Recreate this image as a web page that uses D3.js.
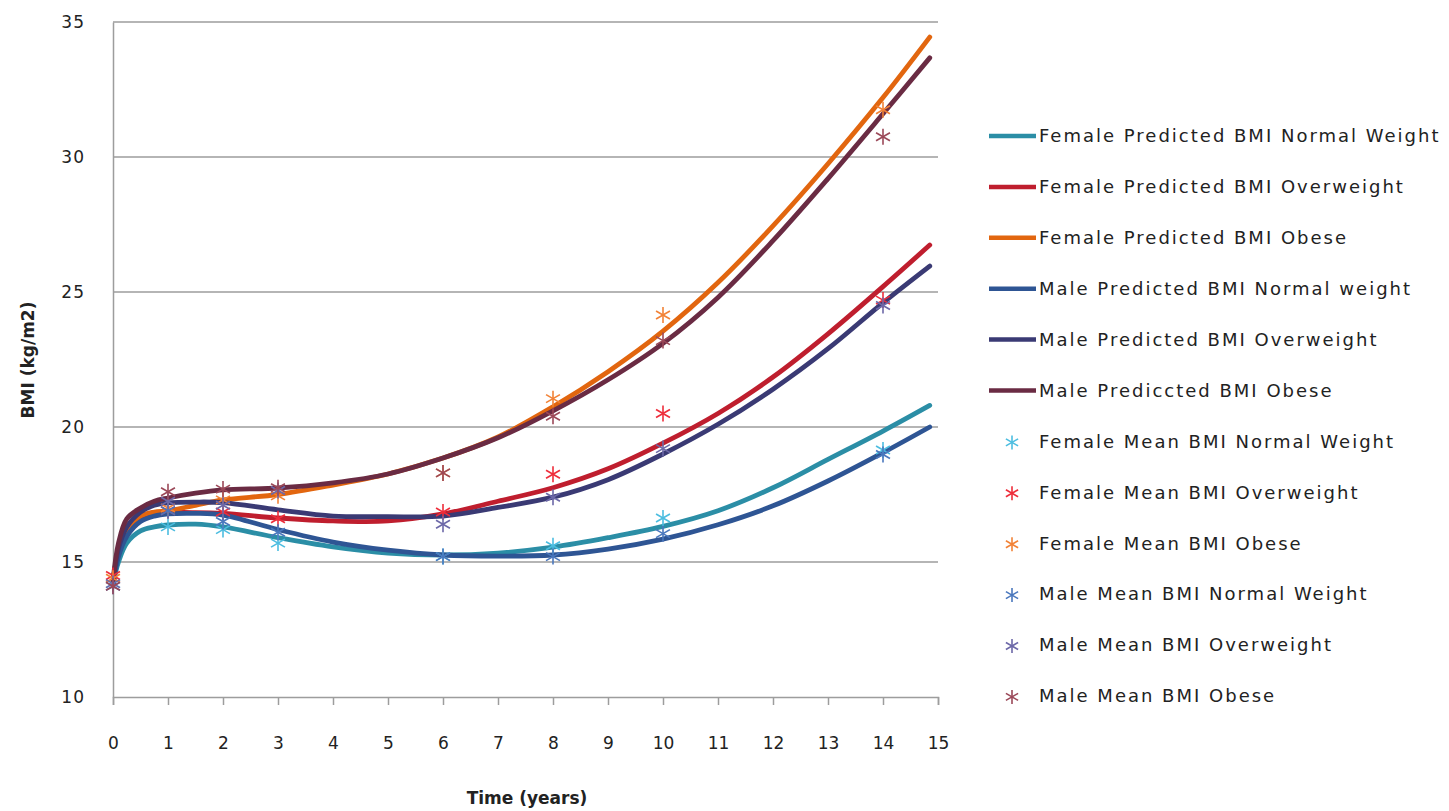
<!DOCTYPE html>
<html>
<head>
<meta charset="utf-8">
<script src="https://cdn.jsdelivr.net/npm/d3@7"></script>
<style>
  html, body { margin: 0; padding: 0; background: #fff; }
  svg { display: block; }
  text { font-family: "DejaVu Sans", Verdana, sans-serif; fill: #222; }
</style>
</head>
<body>
<svg id="chart" width="1449" height="811"></svg>
<script>
// Time points for the predicted (fitted) curves, in years
const predTimes = [0, 0.1, 0.25, 0.5, 0.75, 1, 1.5, 2, 3, 4, 5, 6, 7, 8, 9, 10, 11, 12, 13, 14, 14.85];

// Predicted BMI per group
const femaleNormalPred = [14.2, 15.0, 15.7, 16.15, 16.3, 16.37, 16.4, 16.3, 15.9, 15.56, 15.33, 15.26, 15.33, 15.55, 15.9, 16.32, 16.9, 17.75, 18.8, 19.85, 20.8];
const femaleOverPred   = [14.3, 15.3, 16.0, 16.55, 16.75, 16.82, 16.83, 16.8, 16.63, 16.52, 16.52, 16.78, 17.25, 17.75, 18.45, 19.4, 20.5, 21.85, 23.45, 25.2, 26.74];
const femaleObesePred  = [14.3, 15.4, 16.2, 16.7, 16.85, 16.9, 17.1, 17.3, 17.5, 17.85, 18.26, 18.85, 19.63, 20.75, 22.05, 23.55, 25.35, 27.45, 29.75, 32.2, 34.44];
const maleNormalPred   = [14.1, 15.2, 15.95, 16.5, 16.7, 16.78, 16.8, 16.74, 16.2, 15.74, 15.44, 15.26, 15.22, 15.26, 15.48, 15.85, 16.38, 17.08, 18.0, 19.05, 20.0];
const maleOverPred     = [14.2, 15.5, 16.3, 16.85, 17.1, 17.19, 17.22, 17.2, 16.93, 16.7, 16.68, 16.7, 17.02, 17.4, 18.05, 19.0, 20.1, 21.4, 22.9, 24.6, 25.96];
const maleObesePred    = [14.3, 15.7, 16.6, 17.0, 17.25, 17.37, 17.55, 17.67, 17.74, 17.93, 18.26, 18.85, 19.6, 20.6, 21.75, 23.1, 24.8, 26.9, 29.2, 31.6, 33.67];

// Observation times for the group means
const meanTimes = [0, 1, 2, 3, 6, 8, 10, 14];

// Mean BMI per group at each observation time
const femaleNormalMean = [14.2, 16.3, 16.2, 15.7, 15.2, 15.6, 16.63, 19.15];
const femaleOverMean   = [14.5, 16.9, 16.85, 16.6, 16.85, 18.25, 20.5, 24.7];
const femaleObeseMean  = [14.4, 17.0, 17.3, 17.45, 18.3, 21.05, 24.15, 31.75];
const maleNormalMean   = [14.1, 16.9, 16.5, 16.1, 15.2, 15.2, 16.05, 18.98];
const maleOverMean     = [14.2, 17.25, 17.1, 17.65, 16.4, 17.4, 19.2, 24.5];
const maleObeseMean    = [14.1, 17.6, 17.7, 17.75, 18.3, 20.4, 23.2, 30.75];

const predNames = [
  "Female Predicted BMI Normal Weight",
  "Female Predicted BMI Overweight",
  "Female Predicted BMI Obese",
  "Male Predicted BMI Normal weight",
  "Male Predicted BMI Overweight",
  "Male Predicccted BMI Obese".replace("ccc", "cc")
];

const meanNames = [
  "Female Mean BMI Normal Weight",
  "Female Mean BMI Overweight",
  "Female Mean BMI Obese",
  "Male Mean BMI Normal Weight",
  "Male Mean BMI Overweight",
  "Male Mean BMI Obese"
];

const xTicks = d3.range(0, 16);
const yTicks = [10, 15, 20, 25, 30, 35];

const predColors = ["#2b8ea6", "#bf1e2e", "#e2660f", "#2e5594", "#3a3a74", "#6a2b43"];
const meanColors = ["#4cbde0", "#ee2d3a", "#f28236", "#4a77bd", "#6c68a8", "#9b4858"];

const predSeries = [femaleNormalPred, femaleOverPred, femaleObesePred, maleNormalPred, maleOverPred, maleObesePred];
const meanSeries = [femaleNormalMean, femaleOverMean, femaleObeseMean, maleNormalMean, maleOverMean, maleObeseMean];

const svg = d3.select("#chart");

const x = d3.scaleLinear().domain([0, 15]).range([113, 938]);
const y = d3.scaleLinear().domain([10, 35]).range([697, 22]);

// Horizontal gridlines
svg.append("g")
  .selectAll("line")
  .data(yTicks.filter(v => v > 10))
  .join("line")
  .attr("x1", x(0)).attr("x2", x(15))
  .attr("y1", d => y(d)).attr("y2", d => y(d))
  .attr("stroke", "#9d9d9d").attr("stroke-width", 1.5);

// Y axis (line + labels)
const yAxis = svg.append("g")
  .attr("transform", `translate(${x(0)},0)`)
  .call(d3.axisLeft(y).tickValues(yTicks).tickSize(0).tickPadding(28).tickFormat(d3.format("d")));
yAxis.select(".domain").attr("stroke", "#9d9d9d").attr("stroke-width", 1.5);
yAxis.selectAll("text").style("font-size", "17px").style("font-family", "DejaVu Sans, sans-serif")
  .style("letter-spacing", "1px").attr("fill", "#333");

// X axis (line, ticks, labels)
const xAxis = svg.append("g")
  .attr("transform", `translate(0,${y(10)})`)
  .call(d3.axisBottom(x).tickValues(xTicks).tickSize(8).tickPadding(32).tickFormat(d3.format("d")));
xAxis.select(".domain").attr("stroke", "#9d9d9d").attr("stroke-width", 1.5);
xAxis.selectAll(".tick line").attr("stroke", "#9d9d9d").attr("stroke-width", 1.5);
xAxis.selectAll("text").style("font-size", "17px").style("font-family", "DejaVu Sans, sans-serif").attr("fill", "#333");

// Axis titles
svg.append("text")
  .attr("x", 527).attr("y", 804)
  .attr("text-anchor", "middle")
  .style("font-size", "17px").style("font-weight", "bold")
  .text("Time (years)");
svg.append("text")
  .attr("transform", `translate(34,360) rotate(-90)`)
  .attr("text-anchor", "middle")
  .style("font-size", "17px").style("font-weight", "bold")
  .text("BMI (kg/m2)");

// Predicted curves
const line = d3.line()
  .x(d => x(d[0]))
  .y(d => y(d[1]))
  .curve(d3.curveCatmullRom.alpha(0.5));

svg.append("g")
  .selectAll("path")
  .data(predSeries)
  .join("path")
  .attr("d", s => line(predTimes.map((t, i) => [t, s[i]])))
  .attr("fill", "none")
  .attr("stroke", (s, i) => predColors[i])
  .attr("stroke-width", 4.8)
  .attr("stroke-linecap", "round")
  .attr("stroke-linejoin", "round");

// Asterisk marker: vertical stroke plus an X
function asterisk(g, cx, cy, r, color) {
  const a = r * 0.87, b = r * 0.5;
  const segs = [[0, -r, 0, r], [-a, -b, a, b], [-a, b, a, -b]];
  g.selectAll(null).data(segs).join("line")
    .attr("x1", d => cx + d[0]).attr("y1", d => cy + d[1])
    .attr("x2", d => cx + d[2]).attr("y2", d => cy + d[3])
    .attr("stroke", color).attr("stroke-width", 1.6);
}

// Mean markers
meanSeries.forEach((s, i) => {
  const g = svg.append("g");
  meanTimes.forEach((t, j) => asterisk(g, x(t), y(s[j]), 8, meanColors[i]));
});

// Legend
const legend = svg.append("g");
const legendY0 = 136, legendStep = 50.9;
predNames.forEach((name, i) => {
  const ly = legendY0 + i * legendStep;
  legend.append("line")
    .attr("x1", 989).attr("x2", 1036).attr("y1", ly).attr("y2", ly)
    .attr("stroke", predColors[i]).attr("stroke-width", 4.5);
  legend.append("text")
    .attr("x", 1039).attr("y", ly).attr("dy", "0.35em")
    .style("font-size", "18px").style("letter-spacing", "2px")
    .text(name);
});
meanNames.forEach((name, i) => {
  const ly = legendY0 + (i + 6) * legendStep;
  asterisk(legend.append("g"), 1012, ly + 1, 7, meanColors[i]);
  legend.append("text")
    .attr("x", 1039).attr("y", ly).attr("dy", "0.35em")
    .style("font-size", "18px").style("letter-spacing", "2px")
    .text(name);
});
</script>
</body>
</html>
